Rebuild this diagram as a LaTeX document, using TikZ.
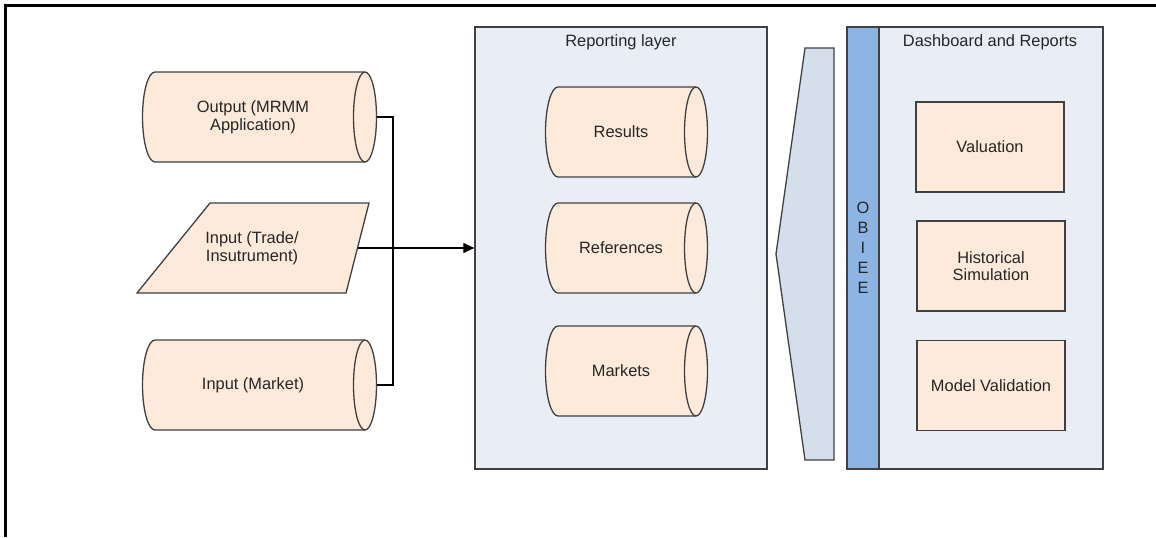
\documentclass[tikz,border=0pt]{standalone}
\usepackage{fontspec}
\setmainfont{Liberation Sans}
\usetikzlibrary{arrows.meta}
\definecolor{peach}{HTML}{FDEADA}
\definecolor{panel}{HTML}{E9EDF5}
\definecolor{chev}{HTML}{D5DFEB}
\definecolor{obiee}{HTML}{8DB4E2}
\definecolor{edge}{HTML}{404040}
\newcommand\storecyl[4]{%
  \filldraw[shapeline,fill=peach] (#2,#3) -- (#1,#3)
    arc[start angle=-90,end angle=-270,x radius=12.5,y radius=#4/2]
    -- (#2,#3+#4)
    arc[start angle=90,end angle=-90,x radius=11.5,y radius=#4/2] -- cycle;
  \draw[shapeline] (#2,#3) arc[start angle=-90,end angle=-270,x radius=11.5,y radius=#4/2];
}
\begin{document}
\begin{tikzpicture}[x=0.5pt,y=-0.5pt,
  shapeline/.style={draw=edge,line width=0.65pt},
  lbl/.style={font=\fontsize{8.2}{8.8}\selectfont,align=center,inner sep=0pt,text=black!85},
  panelbox/.style={shapeline,fill=panel,rectangle,inner sep=0pt},
  repbox/.style={shapeline,fill=peach,rectangle,inner sep=0pt,minimum width=74pt,minimum height=45pt,font=\fontsize{8.2}{8.8}\selectfont,align=center,text=black!85},
  conn/.style={draw=black,line width=0.6pt}]
\useasboundingbox (0,0) rectangle (1156,537);
% outer frame (cropped)
\draw[line width=1.1pt] (5.5,537) -- (5.5,5.5) -- (1156,5.5);

% left inputs
\storecyl{155}{365}{72}{90}
\node[lbl] (outp) at (253,117) {Output (MRMM\\Application)};
\coordinate (outR) at (376.5,117);

\filldraw[shapeline,fill=peach] (210,203) -- (369,203) -- (346,293) -- (137,293) -- cycle;
\node[lbl] (trade) at (252,248) {Input (Trade/\\Insutrument)};
\coordinate (tradeR) at (357.5,248);

\storecyl{155}{365}{340}{90}
\node[lbl] (mkt) at (253,385) {Input (Market)};
\coordinate (mktR) at (376.5,385);

% reporting layer
\node[panelbox,minimum width=146pt,minimum height=221pt] (rep) at (621,248) {};
\node[lbl] (reptitle) at (621,42) {Reporting layer};
\storecyl{558}{696}{87}{90}
\node[lbl] (res) at (621,132) {Results};
\storecyl{558}{696}{203}{90}
\node[lbl] (refs) at (621,248) {References};
\storecyl{558}{696}{326}{90}
\node[lbl] (mkts) at (621,371) {Markets};

% connectors
\draw[conn] (outR) -- ++(16.5,0) |- (mktR);
\draw[conn,-{Triangle[length=5.5pt,width=5pt]}] (tradeR) -- (rep.west);

% chevron
\filldraw[shapeline,fill=chev] (805,48) -- (834,48) -- (834,460) -- (805,460) -- (776,254) -- cycle;

% dashboard
\node[panelbox,minimum width=128pt,minimum height=221pt] (dash) at (975,248) {};
\node[shapeline,fill=obiee,rectangle,inner sep=0pt,minimum width=16pt,minimum height=221pt] (obibar) at (863,248) {};
\node[lbl,font=\fontsize{8.2}{10}\selectfont] (obitext) at (863,248) {O\\B\\I\\E\\E};
\node[lbl] (dashtitle) at (990,42) {Dashboard and Reports};
\node[repbox] (val) at (990,147) {Valuation};
\node[repbox] (hist) at (991,266) {Historical\\Simulation};
\node[repbox] (modv) at (991,385.5) {Model Validation};
\end{tikzpicture}
\end{document}
